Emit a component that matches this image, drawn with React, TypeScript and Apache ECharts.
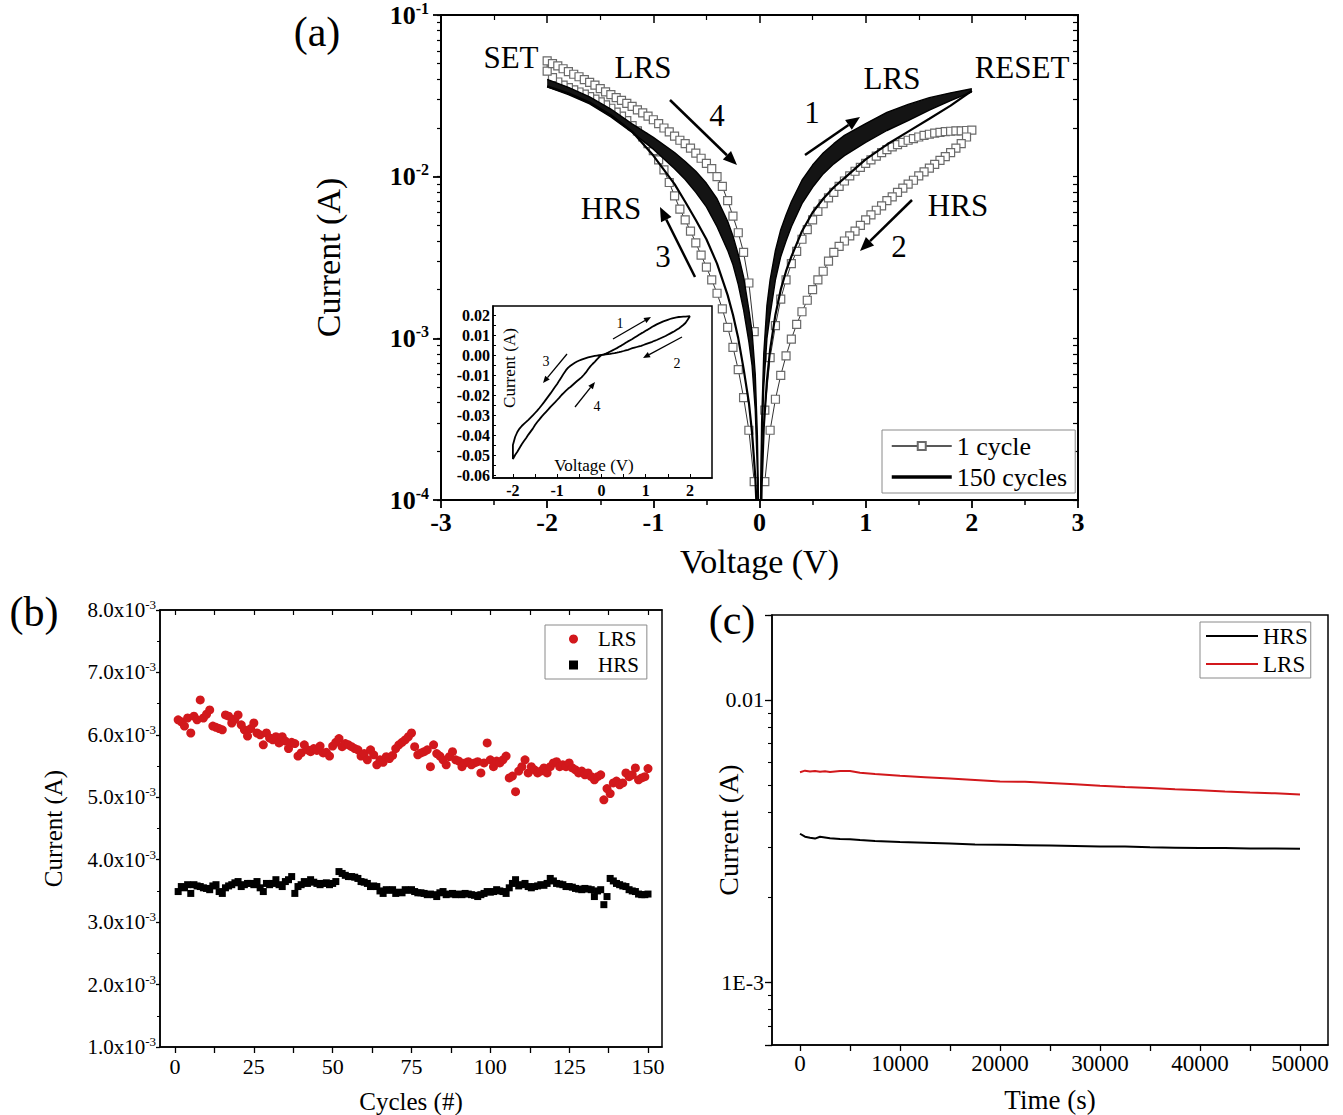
import React, { useEffect, useRef } from "react";
import * as echarts from "echarts";

const FONT = "'Liberation Serif', 'Times New Roman', Times, serif";

// ---------------- Panel (a): I-V sweeps (|I| vs V) ----------------
const sweepV = [0.05, 0.1, 0.15, 0.2, 0.25, 0.3, 0.35, 0.4, 0.45, 0.5, 0.55, 0.6, 0.65, 0.7, 0.75, 0.8, 0.85, 0.9, 0.95, 1.0,
  1.05, 1.1, 1.15, 1.2, 1.25, 1.3, 1.35, 1.4, 1.45, 1.5, 1.55, 1.6, 1.65, 1.7, 1.75, 1.8, 1.85, 1.9, 1.95, 2.0];
// cycle 1, branch 1 (0 -> +2 V)
const cycle1PosLrs = [3.6e-4, 7.6e-4, 1.2e-3, 1.75e-3, 2.3e-3, 2.9e-3, 3.45e-3, 4.1e-3, 4.7e-3, 5.4e-3,
  6.1e-3, 6.8e-3, 7.4e-3, 8.0e-3, 8.7e-3, 9.4e-3, 1.01e-2, 1.08e-2, 1.14e-2, 1.21e-2,
  1.27e-2, 1.34e-2, 1.41e-2, 1.47e-2, 1.53e-2, 1.58e-2, 1.63e-2, 1.68e-2, 1.72e-2, 1.76e-2,
  1.80e-2, 1.83e-2, 1.86e-2, 1.88e-2, 1.90e-2, 1.91e-2, 1.92e-2, 1.92e-2, 1.93e-2, 1.94e-2];
// cycle 1, branch 2 (+2 -> 0 V), listed by ascending V
const cycle1PosHrs = [1.3e-4, 2.7e-4, 4.2e-4, 5.9e-4, 7.8e-4, 9.9e-4, 1.22e-3, 1.46e-3, 1.72e-3, 2.0e-3,
  2.3e-3, 2.6e-3, 3.0e-3, 3.4e-3, 3.7e-3, 4.0e-3, 4.3e-3, 4.6e-3, 5.0e-3, 5.4e-3,
  5.8e-3, 6.2e-3, 6.6e-3, 7.1e-3, 7.5e-3, 8.0e-3, 8.5e-3, 9.0e-3, 9.5e-3, 1.01e-2,
  1.07e-2, 1.13e-2, 1.19e-2, 1.26e-2, 1.33e-2, 1.41e-2, 1.50e-2, 1.60e-2, 1.76e-2, 1.94e-2];
// cycle 1, branch 3 (0 -> -2 V), by ascending |V|
const cycle1NegHrs = [1.3e-4, 2.7e-4, 4.3e-4, 6.4e-4, 8.8e-4, 1.17e-3, 1.52e-3, 1.9e-3, 2.3e-3, 2.76e-3,
  3.27e-3, 3.9e-3, 4.6e-3, 5.4e-3, 6.3e-3, 7.6e-3, 9.2e-3, 1.10e-2, 1.27e-2, 1.45e-2,
  1.60e-2, 1.76e-2, 1.92e-2, 2.07e-2, 2.22e-2, 2.37e-2, 2.51e-2, 2.65e-2, 2.78e-2, 2.90e-2,
  3.02e-2, 3.13e-2, 3.24e-2, 3.34e-2, 3.44e-2, 3.55e-2, 3.68e-2, 3.85e-2, 4.10e-2, 4.50e-2];
// cycle 1, branch 4 (-2 -> 0 V), by ascending |V|
const cycle1NegLrs = [1.1e-3, 2.2e-3, 3.4e-3, 4.5e-3, 5.7e-3, 7.1e-3, 8.7e-3, 1.00e-2, 1.12e-2, 1.21e-2,
  1.30e-2, 1.40e-2, 1.50e-2, 1.60e-2, 1.68e-2, 1.78e-2, 1.89e-2, 2.00e-2, 2.13e-2, 2.25e-2,
  2.37e-2, 2.48e-2, 2.59e-2, 2.72e-2, 2.84e-2, 2.96e-2, 3.08e-2, 3.22e-2, 3.35e-2, 3.50e-2,
  3.68e-2, 3.83e-2, 3.98e-2, 4.15e-2, 4.30e-2, 4.46e-2, 4.65e-2, 4.84e-2, 5.00e-2, 5.20e-2];

// 150 cycles bundle (envelope of the dense band plus the separate return line)
const bundleV = [0.01, 0.02, 0.04, 0.07, 0.1, 0.15, 0.2, 0.25, 0.3, 0.4, 0.5, 0.6, 0.7, 0.8, 1.0, 1.2, 1.4, 1.6, 1.8, 2.0];
const bundleTopPos = [1.0e-4, 3.0e-4, 8.0e-4, 1.6e-3, 2.3e-3, 3.5e-3, 4.7e-3, 5.8e-3, 7.0e-3, 9.5e-3,
  1.18e-2, 1.40e-2, 1.60e-2, 1.80e-2, 2.13e-2, 2.50e-2, 2.80e-2, 3.08e-2, 3.30e-2, 3.50e-2];
const bundleBotPos = [7e-5, 2.0e-4, 5.0e-4, 1.0e-3, 1.4e-3, 2.3e-3, 3.2e-3, 4.0e-3, 4.9e-3, 6.8e-3,
  8.6e-3, 1.04e-2, 1.20e-2, 1.35e-2, 1.63e-2, 1.93e-2, 2.22e-2, 2.58e-2, 2.95e-2, 3.35e-2];
const bundleSepPos = [5e-5, 1.2e-4, 2.8e-4, 5.5e-4, 8.5e-4, 1.4e-3, 2.0e-3, 2.6e-3, 3.2e-3, 4.6e-3,
  6.0e-3, 7.3e-3, 8.6e-3, 9.8e-3, 1.28e-2, 1.58e-2, 1.90e-2, 2.28e-2, 2.75e-2, 3.40e-2];
const bundleTopNeg = [1.0e-4, 2.5e-4, 6.0e-4, 1.1e-3, 1.5e-3, 2.4e-3, 3.3e-3, 4.3e-3, 5.3e-3, 7.3e-3,
  9.1e-3, 1.08e-2, 1.24e-2, 1.41e-2, 1.75e-2, 2.12e-2, 2.62e-2, 3.12e-2, 3.57e-2, 4.00e-2];
const bundleBotNeg = [6e-5, 1.5e-4, 3.6e-4, 6.8e-4, 9.5e-4, 1.5e-3, 2.15e-3, 2.85e-3, 3.5e-3, 4.9e-3,
  6.5e-3, 8.0e-3, 9.6e-3, 1.12e-2, 1.48e-2, 1.88e-2, 2.34e-2, 2.82e-2, 3.22e-2, 3.59e-2];
const bundleSepNeg = [3e-5, 7e-5, 1.4e-4, 2.6e-4, 4.0e-4, 6.5e-4, 1.0e-3, 1.4e-3, 1.85e-3, 2.9e-3,
  4.1e-3, 5.4e-3, 7.0e-3, 9.0e-3, 1.35e-2, 1.90e-2, 2.40e-2, 2.88e-2, 3.28e-2, 3.62e-2];

const insetXLabels = [-2, -1, 0, 1, 2];
const insetXTicks = [-2, -1.5, -1, -0.5, 0, 0.5, 1, 1.5, 2];
const insetYLabels = [-0.06, -0.05, -0.04, -0.03, -0.02, -0.01, 0, 0.01, 0.02];
const insetYTicks = [-0.06, -0.055, -0.05, -0.045, -0.04, -0.035, -0.03, -0.025, -0.02, -0.015, -0.01, -0.005, 0, 0.005, 0.01, 0.015, 0.02];

// ---------------- Panel (b): endurance (units of 1e-3 A) ----------------
const enduranceLrs = [
  6.24, 6.21, 6.14, 6.27, 6.03, 6.30, 6.24, 6.56, 6.27, 6.33,
  6.40, 6.14, 6.12, 6.10, 6.08, 6.32, 6.30, 6.19, 6.25, 6.32,
  6.16, 6.08, 5.98, 6.10, 6.19, 6.03, 6.00, 5.84, 6.03, 5.95,
  5.92, 5.97, 5.87, 5.97, 5.90, 5.78, 5.88, 5.86, 5.66, 5.71,
  5.84, 5.76, 5.73, 5.78, 5.75, 5.82, 5.71, 5.72, 5.66, 5.82,
  5.88, 5.94, 5.81, 5.86, 5.84, 5.81, 5.78, 5.76, 5.66, 5.70,
  5.60, 5.76, 5.68, 5.52, 5.60, 5.56, 5.65, 5.62, 5.67, 5.78,
  5.84, 5.88, 5.92, 5.97, 6.03, 5.81, 5.68, 5.71, 5.73, 5.76,
  5.49, 5.84, 5.70, 5.66, 5.60, 5.52, 5.65, 5.73, 5.60, 5.58,
  5.49, 5.55, 5.57, 5.52, 5.55, 5.57, 5.39, 5.55, 5.87, 5.60,
  5.49, 5.58, 5.55, 5.60, 5.66, 5.31, 5.34, 5.09, 5.42, 5.49,
  5.60, 5.39, 5.49, 5.44, 5.39, 5.42, 5.47, 5.39, 5.49, 5.55,
  5.57, 5.49, 5.52, 5.49, 5.55, 5.47, 5.44, 5.39, 5.42, 5.36,
  5.39, 5.33, 5.28, 5.33, 5.36, 4.96, 5.14, 5.06, 5.23, 5.26,
  5.20, 5.23, 5.39, 5.33, 5.36, 5.47, 5.28, 5.31, 5.33, 5.46];
const enduranceHrs = [
  3.49, 3.57, 3.55, 3.60, 3.46, 3.60, 3.58, 3.57, 3.55, 3.54,
  3.52, 3.58, 3.60, 3.49, 3.46, 3.55, 3.58, 3.60, 3.63, 3.65,
  3.57, 3.60, 3.62, 3.62, 3.60, 3.65, 3.55, 3.49, 3.62, 3.60,
  3.62, 3.68, 3.60, 3.57, 3.65, 3.68, 3.73, 3.46, 3.57, 3.60,
  3.65, 3.62, 3.68, 3.64, 3.62, 3.60, 3.62, 3.63, 3.60, 3.62,
  3.65, 3.81, 3.78, 3.75, 3.73, 3.73, 3.72, 3.70, 3.65, 3.64,
  3.62, 3.57, 3.58, 3.57, 3.50, 3.46, 3.52, 3.51, 3.52, 3.46,
  3.48, 3.47, 3.52, 3.51, 3.52, 3.49, 3.47, 3.47, 3.46, 3.44,
  3.45, 3.44, 3.41, 3.47, 3.49, 3.44, 3.45, 3.46, 3.44, 3.45,
  3.44, 3.46, 3.45, 3.44, 3.43, 3.41, 3.44, 3.46, 3.49, 3.48,
  3.49, 3.52, 3.50, 3.49, 3.46, 3.55, 3.62, 3.68, 3.58, 3.60,
  3.62, 3.57, 3.55, 3.57, 3.58, 3.60, 3.59, 3.62, 3.70, 3.66,
  3.62, 3.61, 3.60, 3.57, 3.57, 3.56, 3.54, 3.53, 3.52, 3.54,
  3.53, 3.52, 3.41, 3.50, 3.52, 3.28, 3.41, 3.70, 3.66, 3.62,
  3.60, 3.58, 3.57, 3.52, 3.50, 3.49, 3.45, 3.44, 3.44, 3.45];
const cycleTicks = [0, 12.5, 25, 37.5, 50, 62.5, 75, 87.5, 100, 112.5, 125, 137.5, 150];
const cycleLabels = [0, 25, 50, 75, 100, 125, 150];

// ---------------- Panel (c): retention ----------------
const retTime = [0, 500, 1000, 1500, 2000, 2500, 3000, 4000, 5000, 6000, 7500, 10000, 12500, 15000, 17500, 20000,
  22500, 25000, 27500, 30000, 32500, 35000, 37500, 40000, 42500, 45000, 47500, 50000];
const retHrs = [3.36e-3, 3.28e-3, 3.25e-3, 3.23e-3, 3.28e-3, 3.26e-3, 3.24e-3, 3.22e-3, 3.21e-3, 3.19e-3, 3.17e-3,
  3.14e-3, 3.12e-3, 3.10e-3, 3.08e-3, 3.07e-3, 3.06e-3, 3.05e-3, 3.04e-3, 3.03e-3, 3.03e-3, 3.01e-3, 3.00e-3,
  2.99e-3, 2.99e-3, 2.98e-3, 2.98e-3, 2.97e-3];
const retLrs = [5.55e-3, 5.62e-3, 5.58e-3, 5.60e-3, 5.57e-3, 5.59e-3, 5.56e-3, 5.60e-3, 5.60e-3, 5.53e-3, 5.47e-3,
  5.39e-3, 5.33e-3, 5.27e-3, 5.21e-3, 5.14e-3, 5.13e-3, 5.08e-3, 5.03e-3, 4.97e-3, 4.92e-3, 4.88e-3, 4.83e-3,
  4.79e-3, 4.74e-3, 4.70e-3, 4.67e-3, 4.63e-3];
const timeTicks = [0, 5000, 10000, 15000, 20000, 25000, 30000, 35000, 40000, 45000, 50000];
const timeLabels = [0, 10000, 20000, 30000, 40000, 50000];

// ---------------- helpers ----------------
function logMinorTicks(lo: number, hi: number): number[] {
  const out: number[] = [];
  for (let d = Math.floor(lo); d < Math.ceil(hi) + 1; d++) {
    for (let k = 1; k <= 9; k++) {
      const t = d + Math.log10(k);
      if (t >= lo - 1e-9 && t <= hi + 1e-9) out.push(t);
    }
  }
  return out;
}

function arrow(x1: number, y1: number, x2: number, y2: number, w: number, head: number) {
  const a = Math.atan2(y2 - y1, x2 - x1);
  const bx = x2 - head * Math.cos(a);
  const by = y2 - head * Math.sin(a);
  const hw = head * 0.42;
  const px = Math.sin(a) * hw;
  const py = -Math.cos(a) * hw;
  return [
    { type: "line", z: 100, shape: { x1, y1, x2: bx, y2: by }, style: { stroke: "#000", lineWidth: w } },
    { type: "polygon", z: 100, shape: { points: [[x2, y2], [bx + px, by + py], [bx - px, by - py]] }, style: { fill: "#000" } },
  ];
}

function txt(text: string, x: number, y: number, size: number, extra: any = {}) {
  return {
    type: "text", x, y, z: 100, ...extra,
    style: { text, fontFamily: FONT, fontSize: size, fill: "#000", align: "center", verticalAlign: "middle", textAlign: "center", textVerticalAlign: "middle" },
  };
}

const black = "#000";
const red = "#d2181c";
const hiddenSymbol = { opacity: 0, color: "transparent", borderWidth: 0 };

function buildOption() {
  const posLoop = [
    ...sweepV.map((v, i) => [v, cycle1PosLrs[i]]),
    ...sweepV.slice(0, -1).map((v, i) => [v, cycle1PosHrs[i]]).reverse(),
  ];
  const negLoop = [
    ...sweepV.map((v, i) => [-v, cycle1NegHrs[i]]),
    ...sweepV.map((v, i) => [-v, cycle1NegLrs[i]]).reverse(),
  ];
  const insetData = [
    [0, 0],
    ...sweepV.map((v, i) => [v, cycle1PosLrs[i]]),
    ...sweepV.slice(0, -1).map((v, i) => [v, cycle1PosHrs[i]]).reverse(),
    [0, 0],
    ...sweepV.map((v, i) => [-v, -cycle1NegHrs[i]]),
    ...sweepV.map((v, i) => [-v, -cycle1NegLrs[i]]).reverse(),
    [0, 0],
  ];

  const bandRender = (sign: number, top: number[], bot: number[]) => (_p: any, api: any) => {
    const pts: number[][] = [];
    bundleV.forEach((v, i) => pts.push(api.coord([sign * v, top[i]])));
    for (let i = bundleV.length - 1; i >= 0; i--) pts.push(api.coord([sign * bundleV[i], bot[i]]));
    return { type: "polygon", shape: { points: pts }, style: { fill: "#141414" } };
  };

  const bundleLine = (sign: number, arr: number[], width: number) => ({
    type: "line", name: "150 cycles", xAxisIndex: 0, yAxisIndex: 0, z: 4, silent: true,
    symbol: "none", showSymbol: false,
    data: bundleV.map((v, i) => [sign * v, arr[i]]),
    lineStyle: { color: black, width },
  });

  const minorA = logMinorTicks(-4, -1);
  const cLo = Math.log10(6e-4);
  const cHi = Math.log10(0.02);
  const minorC = logMinorTicks(cLo, cHi);

  const axLine = (w = 1.5) => ({ show: true, onZero: false, lineStyle: { color: black, width: w } });

  const graphicEls: any[] = [
    txt("(a)", 317, 32, 42),
    txt("(b)", 34, 612, 42),
    txt("(c)", 732, 620, 42),
    txt("SET", 511, 57, 31),
    txt("LRS", 643, 67, 31),
    txt("4", 717, 115, 31),
    txt("1", 812, 112, 31),
    txt("LRS", 892, 78, 31),
    txt("RESET", 1022, 67, 31),
    txt("HRS", 611, 208, 31),
    txt("3", 663, 256, 31),
    txt("HRS", 958, 205, 31),
    txt("2", 899, 246, 31),
    ...arrow(670, 100, 737, 165, 2.5, 14),
    ...arrow(805, 155, 860, 117, 2.5, 14),
    ...arrow(695, 277, 660, 207, 2.5, 14),
    ...arrow(912, 200, 860, 251, 2.5, 14),
    // inset annotations
    txt("Current (A)", 509, 368, 17, { rotation: Math.PI / 2 }),
    txt("Voltage (V)", 594, 465, 17),
    txt("1", 620, 323, 14),
    txt("2", 677, 363, 14),
    txt("3", 546, 361, 14),
    txt("4", 597, 406, 14),
    ...arrow(613, 339, 651, 317, 1.3, 7),
    ...arrow(682, 337, 643, 358, 1.3, 7),
    ...arrow(567, 354, 543, 383, 1.3, 7),
    ...arrow(575, 407, 595, 382, 1.3, 7),
  ];

  return {
    animation: false,
    backgroundColor: "#fff",
    textStyle: { fontFamily: FONT },
    grid: [
      { left: 441, top: 15, width: 637, height: 485, show: true, borderColor: black, borderWidth: 1.5, backgroundColor: "transparent" },
      { left: 493, top: 306, width: 219, height: 172, show: true, borderColor: black, borderWidth: 1.5, backgroundColor: "#fff", z: 10 },
      { left: 160, top: 610, width: 502, height: 437, show: true, borderColor: black, borderWidth: 1.5, backgroundColor: "transparent" },
      { left: 772, top: 615, width: 556, height: 430, show: true, borderColor: black, borderWidth: 1.5, backgroundColor: "transparent" },
    ],
    xAxis: [
      {
        gridIndex: 0, type: "value", min: -3, max: 3, interval: 1,
        axisLine: axLine(2), axisTick: { show: true, length: 8, lineStyle: { color: black, width: 1.8 } },
        minorTick: { show: true, splitNumber: 2, length: 5, lineStyle: { color: black, width: 1.5 } },
        splitLine: { show: false }, minorSplitLine: { show: false },
        axisLabel: { formatter: (v: number) => String(v), fontFamily: FONT, fontSize: 26, fontWeight: "bold", color: black, margin: 9 },
        name: "Voltage (V)", nameLocation: "middle", nameGap: 44, nameMoveOverlap: false,
        nameTextStyle: { fontFamily: FONT, fontSize: 34, color: black },
      },
      {
        gridIndex: 0, type: "value", position: "top", min: -3, max: 3, interval: 1,
        axisLine: axLine(2), axisTick: { show: true, inside: true, length: 8, lineStyle: { color: black, width: 1.5 } },
        minorTick: { show: true, splitNumber: 2, length: 5, lineStyle: { color: black, width: 1.2 } },
        splitLine: { show: false }, axisLabel: { show: false },
      },
      {
        gridIndex: 1, type: "value", min: -2.45, max: 2.5, z: 12,
        axisLine: axLine(1.5),
        axisTick: { show: true, inside: true, length: 4, customValues: insetXTicks, lineStyle: { color: black, width: 1 } },
        axisLabel: { customValues: insetXLabels, formatter: (v: number) => String(v), fontFamily: FONT, fontSize: 16, fontWeight: "bold", color: black, margin: 4 },
        splitLine: { show: false },
      },
      {
        gridIndex: 2, type: "value", min: -4.76, max: 154.44,
        axisLine: axLine(1.5),
        axisTick: { show: true, length: 6, customValues: cycleTicks, lineStyle: { color: black, width: 1.3 } },
        axisLabel: { customValues: cycleLabels, formatter: (v: number) => String(v), fontFamily: FONT, fontSize: 22, color: black, margin: 8 },
        splitLine: { show: false },
        name: "Cycles (#)", nameLocation: "middle", nameGap: 42, nameMoveOverlap: false,
        nameTextStyle: { fontFamily: FONT, fontSize: 25, color: black },
      },
      {
        gridIndex: 2, type: "value", position: "top", min: -4.76, max: 154.44,
        axisLine: axLine(1.5),
        axisTick: { show: true, inside: true, length: 5, customValues: cycleTicks, lineStyle: { color: black, width: 1.2 } },
        axisLabel: { show: false }, splitLine: { show: false },
      },
      {
        gridIndex: 3, type: "value", min: -2800, max: 52800,
        axisLine: axLine(1.5),
        axisTick: { show: true, length: 6, customValues: timeTicks, lineStyle: { color: black, width: 1.3 } },
        axisLabel: { customValues: timeLabels, formatter: (v: number) => String(v), fontFamily: FONT, fontSize: 23, color: black, margin: 7 },
        splitLine: { show: false },
        name: "Time (s)", nameLocation: "middle", nameGap: 41, nameMoveOverlap: false,
        nameTextStyle: { fontFamily: FONT, fontSize: 27, color: black },
      },
    ],
    yAxis: [
      {
        gridIndex: 0, type: "log", logBase: 10, min: 1e-4, max: 1e-1,
        axisLine: axLine(2), axisTick: { show: true, length: 8, lineStyle: { color: black, width: 1.8 } },
        splitLine: { show: false },
        axisLabel: {
          margin: 12,
          formatter: (v: number) => `{b|10}{s|${Math.round(Math.log10(v))}}`,
          rich: {
            b: { fontFamily: FONT, fontSize: 26, fontWeight: "bold", color: black, lineHeight: 30 },
            s: { fontFamily: FONT, fontSize: 16, fontWeight: "bold", color: black, verticalAlign: "top", lineHeight: 18 },
          },
        },
        name: "Current (A)", nameLocation: "middle", nameGap: 96, nameMoveOverlap: false,
        nameTextStyle: { fontFamily: FONT, fontSize: 34, color: black },
      },
      {
        gridIndex: 0, type: "value", min: -4, max: -1, position: "left",
        axisLine: { show: false, onZero: false }, axisLabel: { show: false }, splitLine: { show: false },
        axisTick: { show: true, length: 4, customValues: minorA, lineStyle: { color: black, width: 1.2 } },
      },
      {
        gridIndex: 0, type: "value", min: -4, max: -1, position: "right",
        axisLine: axLine(2), axisLabel: { show: false }, splitLine: { show: false },
        axisTick: { show: true, inside: true, length: 5, customValues: minorA, lineStyle: { color: black, width: 1.2 } },
      },
      {
        gridIndex: 1, type: "value", min: -0.0615, max: 0.0245, z: 12,
        axisLine: axLine(1.5), splitLine: { show: false },
        axisTick: { show: true, inside: true, length: 3, customValues: insetYTicks, lineStyle: { color: black, width: 1 } },
        axisLabel: {
          customValues: insetYLabels, margin: 3,
          formatter: (v: number) => (Math.abs(v) < 1e-9 ? "0.00" : v.toFixed(2)),
          fontFamily: FONT, fontSize: 16, fontWeight: "bold", color: black,
        },
      },
      {
        gridIndex: 2, type: "value", min: 0.001, max: 0.008, interval: 0.001,
        axisLine: axLine(1.5), splitLine: { show: false },
        axisTick: { show: true, length: 4, lineStyle: { color: black, width: 1.3 } },
        minorTick: { show: true, splitNumber: 2, length: 3, lineStyle: { color: black, width: 1 } },
        axisLabel: {
          margin: 4,
          formatter: (v: number) => `{m|${(v * 1000).toFixed(1)}x10}{s|-3}`,
          rich: {
            m: { fontFamily: FONT, fontSize: 21, color: black, lineHeight: 24 },
            s: { fontFamily: FONT, fontSize: 13, color: black, verticalAlign: "top", lineHeight: 14 },
          },
        },
        name: "Current (A)", nameLocation: "middle", nameGap: 94, nameMoveOverlap: false,
        nameTextStyle: { fontFamily: FONT, fontSize: 25, color: black },
      },
      {
        gridIndex: 3, type: "log", logBase: 10, min: 6e-4, max: 0.02,
        axisLine: axLine(1.5), splitLine: { show: false },
        axisTick: { show: true, length: 7, lineStyle: { color: black, width: 1.3 } },
        axisLabel: {
          margin: 8, fontFamily: FONT, fontSize: 22, color: black,
          formatter: (v: number) => {
            const e = Math.log10(v);
            if (Math.abs(e - Math.round(e)) > 1e-6) return "";
            const r = Math.round(e);
            return r === -2 ? "0.01" : r === -3 ? "1E-3" : "";
          },
        },
        name: "Current (A)", nameLocation: "middle", nameGap: 30, nameMoveOverlap: false,
        nameTextStyle: { fontFamily: FONT, fontSize: 28, color: black },
      },
      {
        gridIndex: 3, type: "value", min: cLo, max: cHi, position: "left",
        axisLine: { show: false, onZero: false }, axisLabel: { show: false }, splitLine: { show: false },
        axisTick: { show: true, length: 4, customValues: minorC, lineStyle: { color: black, width: 1.1 } },
      },
    ],
    legend: [
      {
        left: 882, top: 430, orient: "vertical", selectedMode: false, z: 20,
        data: [
          { name: "1 cycle", lineStyle: { width: 1.5, color: "#222" } },
          { name: "150 cycles", lineStyle: { width: 3.5, color: black }, itemStyle: hiddenSymbol },
        ],
        itemWidth: 60, itemHeight: 10, itemGap: 5, padding: [3, 8, 3, 8],
        borderColor: "#8a8a8a", borderWidth: 1, backgroundColor: "#fff",
        textStyle: { fontFamily: FONT, fontSize: 26, color: black, lineHeight: 25 },
      },
      {
        left: 545, top: 625, orient: "vertical", selectedMode: false,
        data: ["LRS", "HRS"],
        itemWidth: 9, itemHeight: 9, itemGap: 4, padding: [3, 8, 3, 24],
        borderColor: "#8a8a8a", borderWidth: 1, backgroundColor: "#fff",
        textStyle: { fontFamily: FONT, fontSize: 21, color: black, lineHeight: 22, padding: [0, 0, 0, 15] },
      },
      {
        left: 1200, top: 622, orient: "vertical", selectedMode: false,
        data: [
          { name: "HRS_ret", itemStyle: hiddenSymbol },
          { name: "LRS_ret", itemStyle: hiddenSymbol },
        ],
        formatter: (n: string) => n.replace("_ret", ""),
        itemWidth: 52, itemHeight: 10, itemGap: 4, padding: [2, 3, 2, 5],
        borderColor: "#8a8a8a", borderWidth: 1, backgroundColor: "#fff",
        textStyle: { fontFamily: FONT, fontSize: 23, color: black, lineHeight: 24 },
      },
    ],
    series: [
      // (a) cycle 1 squares
      {
        type: "line", name: "1 cycle", xAxisIndex: 0, yAxisIndex: 0, z: 2, silent: true,
        data: posLoop, symbol: "rect", symbolSize: 8, showSymbol: true,
        itemStyle: { color: "#fff", borderColor: "#6a6a6a", borderWidth: 1.2 },
        lineStyle: { color: "#333", width: 1 },
      },
      {
        type: "line", name: "1 cycle", xAxisIndex: 0, yAxisIndex: 0, z: 2, silent: true,
        data: negLoop, symbol: "rect", symbolSize: 8, showSymbol: true,
        itemStyle: { color: "#fff", borderColor: "#6a6a6a", borderWidth: 1.2 },
        lineStyle: { color: "#333", width: 1 },
      },
      // (a) 150-cycle band
      {
        type: "custom", name: "band+", xAxisIndex: 0, yAxisIndex: 0, z: 3, clip: true, silent: true,
        data: [[1, 0.01]], renderItem: bandRender(1, bundleTopPos, bundleBotPos),
      },
      {
        type: "custom", name: "band-", xAxisIndex: 0, yAxisIndex: 0, z: 3, clip: true, silent: true,
        data: [[-1, 0.01]], renderItem: bandRender(-1, bundleTopNeg, bundleBotNeg),
      },
      bundleLine(1, bundleTopPos, 1.4),
      bundleLine(1, bundleBotPos, 1.4),
      bundleLine(1, bundleSepPos, 2.2),
      bundleLine(-1, bundleTopNeg, 1.4),
      bundleLine(-1, bundleBotNeg, 1.4),
      bundleLine(-1, bundleSepNeg, 2.2),
      // inset linear I-V
      {
        type: "line", name: "inset", xAxisIndex: 2, yAxisIndex: 3, z: 12, silent: true,
        data: insetData, symbol: "none", showSymbol: false,
        lineStyle: { color: black, width: 1.8 },
      },
      // (b) endurance
      {
        type: "scatter", name: "LRS", xAxisIndex: 3, yAxisIndex: 4, silent: true,
        symbol: "circle", symbolSize: 9, itemStyle: { color: red, opacity: 1 },
        data: enduranceLrs.map((v, i) => [i + 1, v / 1000]),
      },
      {
        type: "scatter", name: "HRS", xAxisIndex: 3, yAxisIndex: 4, silent: true,
        symbol: "rect", symbolSize: 7, itemStyle: { color: black, opacity: 1 },
        data: enduranceHrs.map((v, i) => [i + 1, v / 1000]),
      },
      // (c) retention
      {
        type: "line", name: "HRS_ret", xAxisIndex: 5, yAxisIndex: 5, silent: true,
        symbol: "none", showSymbol: false, lineStyle: { color: black, width: 2 }, itemStyle: { color: black },
        data: retTime.map((t, i) => [t, retHrs[i]]),
      },
      {
        type: "line", name: "LRS_ret", xAxisIndex: 5, yAxisIndex: 5, silent: true,
        symbol: "none", showSymbol: false, lineStyle: { color: red, width: 2 }, itemStyle: { color: red },
        data: retTime.map((t, i) => [t, retLrs[i]]),
      },
    ],
    graphic: { elements: graphicEls },
  };
}

export default function App() {
  const ref = useRef<HTMLDivElement>(null);
  useEffect(() => {
    if (!ref.current) return;
    const chart = echarts.init(ref.current, null, { renderer: "svg" });
    chart.setOption(buildOption() as any);
    return () => chart.dispose();
  }, []);
  return (
    <div
      ref={ref}
      style={{ position: "absolute", left: 0, top: 0, width: 1343, height: 1115, background: "#fff" }}
    />
  );
}
